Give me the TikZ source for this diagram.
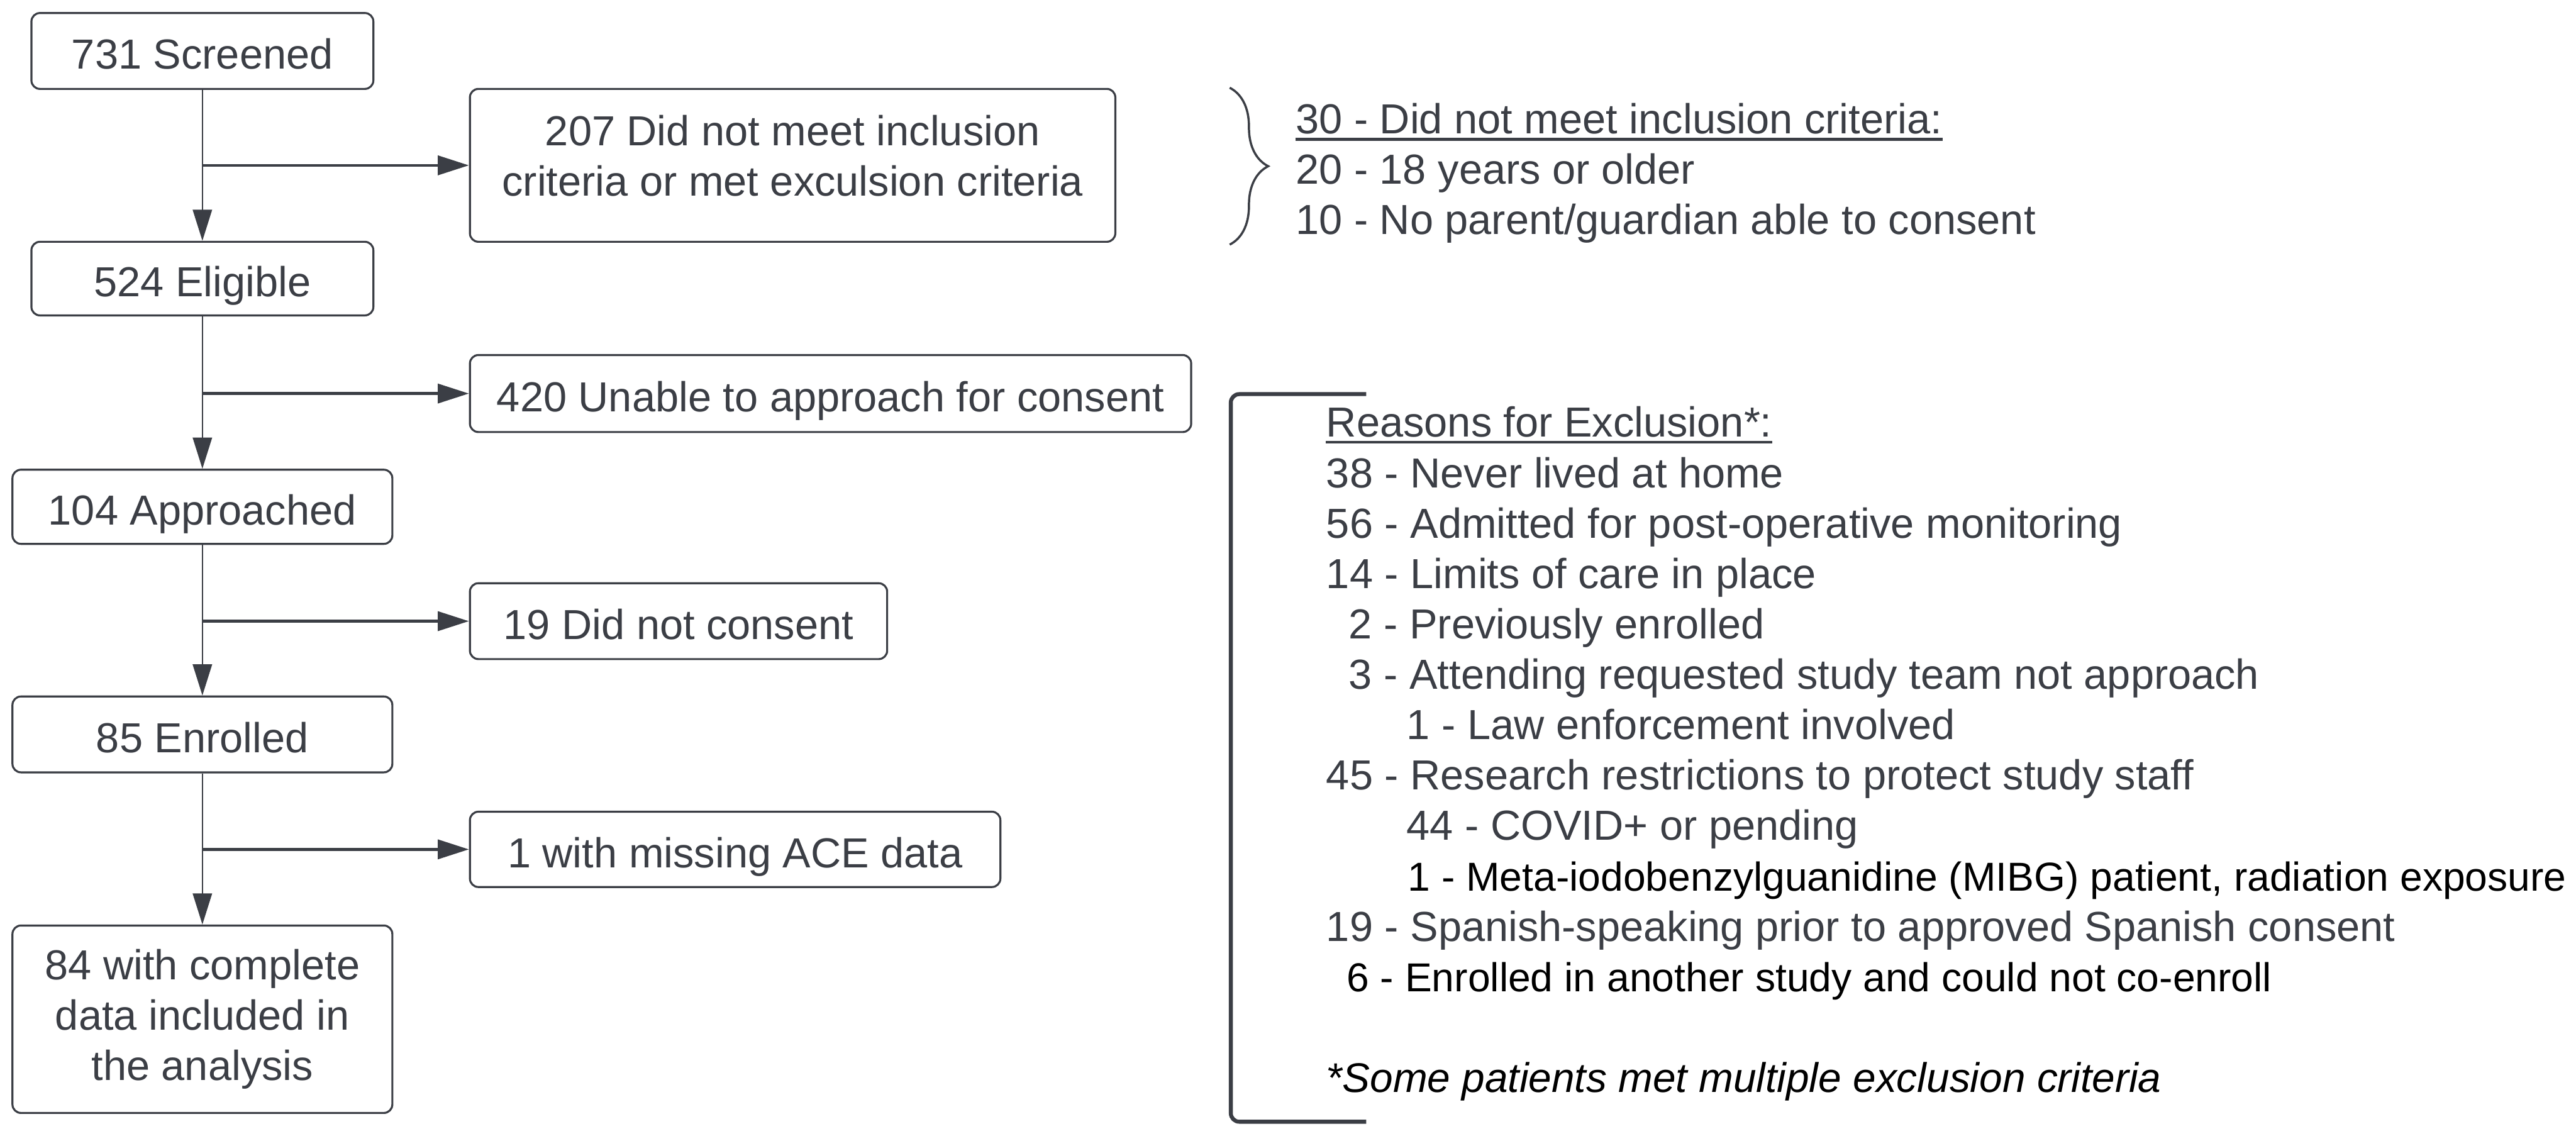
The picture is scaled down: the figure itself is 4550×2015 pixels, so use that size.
\documentclass[tikz,border=0pt]{standalone}
\usepackage{fontspec}
\setmainfont{Liberation Sans}
\usetikzlibrary{arrows.meta,decorations.pathreplacing}
\definecolor{inkgray}{RGB}{59,62,69}
\begin{document}
\begin{tikzpicture}[x=0.1mm, y=-0.1mm,
    every node/.style={font=\fontsize{21.1}{25.3}\selectfont, text=inkgray},
    box/.style={draw=inkgray, line width=1pt, rounded corners=0.15cm, fill=white, align=center, inner sep=0pt},
    onebox/.style={box, text height=0.7cm, text depth=0.06cm},
    trunk/.style={draw=inkgray, line width=0.7pt, -{Triangle[length=5.5mm, width=3.4mm]}},
    branch/.style={trunk, line width=1.4pt},
    txt/.style={anchor=base west, inner sep=0pt},
    blk/.style={text=black, font=\fontsize{20.3}{25.3}\selectfont},
    uline/.style={draw=inkgray, line width=1.3pt},
    ]
    \useasboundingbox (0,0) rectangle (4550,2015);
    % ---------- main column ----------
    \node[onebox, minimum width=6.04cm, minimum height=1.34cm] (scr) at (357.5,90) {731 Screened};
    \node[onebox, minimum width=6.04cm, minimum height=1.30cm] (elig) at (357.5,492) {524 Eligible};
    \node[onebox, minimum width=6.71cm, minimum height=1.31cm] (appr) at (357.5,895) {104 Approached};
    \node[onebox, minimum width=6.71cm, minimum height=1.34cm] (enr) at (357.5,1297) {85 Enrolled};
    \node[box, minimum width=6.71cm, minimum height=3.31cm] (anl) at (357.5,1800)
        {84 with complete\\data included in\\the analysis};
    % ---------- side boxes ----------
    \node[box, minimum width=11.4cm, minimum height=2.70cm, text depth=0.35cm] (notmet) at (1400,292)
        {207 Did not meet inclusion\\criteria or met exculsion criteria};
    \node[onebox, minimum width=12.74cm, minimum height=1.36cm] (unable) at (1467,695) {420 Unable to approach for consent};
    \node[onebox, minimum width=7.37cm, minimum height=1.34cm] (nocons) at (1198.5,1097) {19 Did not consent};
    \node[onebox, minimum width=9.37cm, minimum height=1.33cm] (miss) at (1298.5,1500) {1 with missing ACE data};
    % ---------- arrows ----------
    \draw[trunk] (scr) -- (elig);
    \draw[trunk] (elig) -- (appr);
    \draw[trunk] (appr) -- (enr);
    \draw[trunk] (enr) -- (anl);
    \draw[branch] (notmet -| scr) -- (notmet);
    \draw[branch] (unable -| scr) -- (unable);
    \draw[branch] (nocons -| scr) -- (nocons);
    \draw[branch] (miss -| scr) -- (miss);
    % ---------- inclusion brace ----------
    \draw[inkgray, line width=1.1pt, decorate, decoration={brace, amplitude=0.68cm}] (2172,155) -- (2172,432);
    \node[txt] (b0) at (2288,236) {30 - Did not meet inclusion criteria:};
    \draw[uline] ([yshift=-0.1cm]b0.base west) -- ([yshift=-0.1cm]b0.base east);
    \node[txt] (b1) at (2288,325) {20 - 18 years or older};
    \node[txt] (b2) at (2288,414) {10 - No parent/guardian able to consent};
    % ---------- exclusion bracket ----------
    \draw[inkgray, line width=2pt, rounded corners=0.15cm] (2413,696) -- (2174,696) -- (2174,1981) -- (2413,1981);
    \node[txt] (r0) at (2342,772) {Reasons for Exclusion*:};
    \draw[uline] ([yshift=-0.09cm]r0.base west) -- ([yshift=-0.09cm]r0.base east);
    \node[txt] (r1) at (2342,861) {38 - Never lived at home};
    \node[txt] (r2) at (2342,950) {56 - Admitted for post-operative monitoring};
    \node[txt] (r3) at (2342,1039) {14 - Limits of care in place};
    \node[txt] (r4) at (2382,1128) {2 - Previously enrolled};
    \node[txt] (r5) at (2382,1217) {3 - Attending requested study team not approach};
    \node[txt] (r6) at (2484,1306) {1 - Law enforcement involved};
    \node[txt] (r7) at (2342,1395) {45 - Research restrictions to protect study staff};
    \node[txt] (r8) at (2484,1484) {44 - COVID+ or pending};
    \node[txt, blk] (r9) at (2486,1573) {1 - Meta-iodobenzylguanidine (MIBG) patient, radiation exposure};
    \node[txt] (r10) at (2342,1662) {19 - Spanish-speaking prior to approved Spanish consent};
    \node[txt, blk] (r11) at (2378,1751) {6 - Enrolled in another study and could not co-enroll};
    \node[txt, text=black, font=\fontsize{20.8}{25.3}\selectfont\itshape] (r12) at (2342,1929) {*Some patients met multiple exclusion criteria};
\end{tikzpicture}
\end{document}
